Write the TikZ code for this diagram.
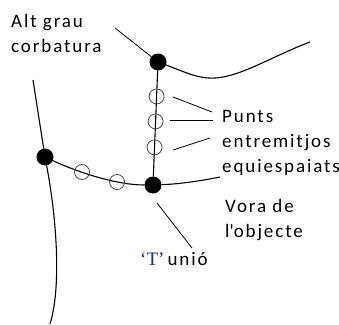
\documentclass[tikz,border=0pt]{standalone}
\usepackage{fontspec}
\setmainfont{Carlito}[LetterSpace=10]
\newfontfamily\serifT{Liberation Serif}
\usetikzlibrary{positioning}
\definecolor{tblue}{RGB}{28,48,105}

\begin{document}
\begin{tikzpicture}[x=1pt, y=-1pt,% styles used in image code
jdot/.style = {circle, fill,
               minimum size=17pt, inner sep=0pt, outer sep=0pt},
odot/.style = {circle, draw=black!70, line width=0.8pt,
               minimum size=15pt, inner sep=0pt},
rim/.style  = {line width=1.1pt},
lead/.style = {line width=0.8pt},
txt/.style  = {font=\fontsize{19}{25}\selectfont, align=left,
               inner sep=0pt, anchor=base west} % base = last line
                    ]
	\useasboundingbox (0,0) rectangle (339,324);

	% junctions
	\node[jdot] (top)  at (158,62)  {};
	\node[jdot] (tee)  at (153,185) {};
	\node[jdot] (left) at (45,157)  {};

	% object borders
	\coordinate (l0) at (33,80);
	\coordinate (l1) at (50,324);
	\coordinate (r0) at (310,42);
	\coordinate (r1) at (220,177);
	\draw[rim] (l0) -- (left);
	\draw[rim] (left) .. controls (56,215) and (62,285) .. (l1);
	\draw[rim] (top) .. controls (185,72) and (198,79) .. (215,78)
	                 .. controls (240,77) and (275,55) .. (r0);
	\draw[rim] (left) .. controls (75,171) and (115,185) .. (tee);
	\draw[rim] (tee) .. controls (180,184) and (200,181) .. (r1);
	\draw[rim] (top) -- (tee);

	% equally spaced points
	\path (top) -- (tee) node[odot, pos=0.245] (v1) {}
	                     node[odot, pos=0.48]  (v2) {}
	                     node[odot, pos=0.725] (v3) {};
	\node[odot] (h1) at (82,172)  {};
	\node[odot] (h2) at (117,182) {};

	% labels
	\node[txt] (alt)   at (11,52)   {Alt grau\\corbatura};
	\node[txt] (punts) at (222,172) {Punts\\entremitjos\\equiespaiats};
	\node[txt] (vora)  at (225,237) {Vora de\\l\textquotesingle objecte};
	\node[txt] (unio)  at (140,265) {{\serifT\fontsize{19}{19}\selectfont\color{tblue}‘T’}\,unió};

	% leader lines
	\coordinate (a0) at (115,28);
	\coordinate (p1a) at (173,97);  \coordinate (p1b) at (212,112);
	\coordinate (p2a) at (170,120); \coordinate (p2b) at (213,120);
	\coordinate (p3a) at (173,150); \coordinate (p3b) at (210,138);
	\coordinate (t0) at (157,203);  \coordinate (t1) at (192,248);
	\draw[lead] (a0) -- (top);
	\draw[lead] (p1a) -- (p1b);
	\draw[lead] (p2a) -- (p2b);
	\draw[lead] (p3a) -- (p3b);
	\draw[lead] (t0) -- (t1);
\end{tikzpicture}
\end{document}
